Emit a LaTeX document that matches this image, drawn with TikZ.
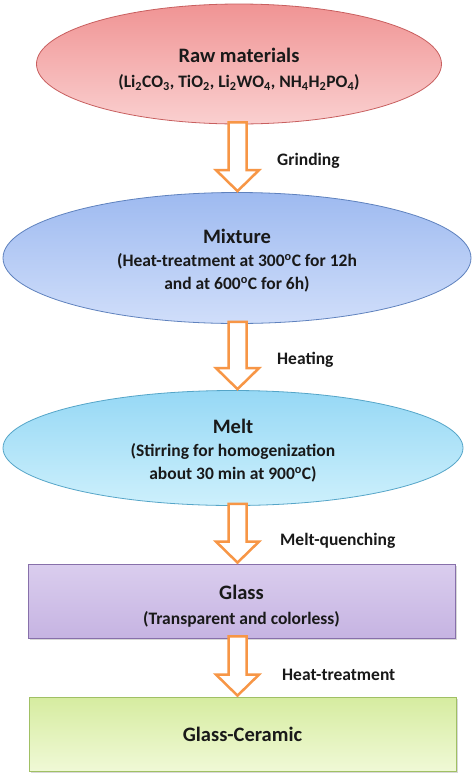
\documentclass[tikz,border=0pt]{standalone}
\usepackage{fontspec}
\setmainfont{Carlito}
\usetikzlibrary{shapes.geometric,calc,shadows}
\definecolor{rawT}{RGB}{240,148,148}
\definecolor{rawB}{RGB}{250,208,208}
\definecolor{rawE}{RGB}{200,95,95}
\definecolor{mixT}{RGB}{158,186,240}
\definecolor{mixB}{RGB}{208,222,250}
\definecolor{mixE}{RGB}{95,130,190}
\definecolor{melT}{RGB}{150,216,245}
\definecolor{melB}{RGB}{205,240,252}
\definecolor{melE}{RGB}{85,165,200}
\definecolor{glaT}{RGB}{218,205,238}
\definecolor{glaB}{RGB}{198,180,226}
\definecolor{glaE}{RGB}{135,112,170}
\definecolor{gcT}{RGB}{214,236,160}
\definecolor{gcB}{RGB}{240,249,214}
\definecolor{gcE}{RGB}{160,192,100}
\definecolor{arrO}{RGB}{247,150,70}
\definecolor{txt}{RGB}{25,25,25}
\newcommand\ttl[2][25pt]{\rule{0pt}{#1}{\fontsize{20.5}{23}\selectfont #2}}
\newcommand\dg{\textsuperscript{o}}
\newcommand\sub[1]{\textsubscript{#1}}
\newcommand\flowarrow[2]{%
  \draw[blockarr] let \p1=(#1.south), \p2=(#2.north) in
    (228.5pt,{\y1+2pt}) -- (228.5pt,{\y2+22pt}) -- (216pt,{\y2+22pt}) -- (237.5pt,{\y2+1pt})
    -- (259pt,{\y2+22pt}) -- (246.5pt,{\y2+22pt}) -- (246.5pt,{\y1+2pt}) -- cycle;}
\begin{document}
\begin{tikzpicture}[x=1pt,y=-1pt,
  ell/.style={ellipse, draw, line width=0.8pt, inner sep=0pt, align=center, text=txt,
    font=\bfseries\fontsize{17.5}{23}\selectfont},
  box/.style={rectangle, draw, line width=0.8pt, inner sep=0pt, align=center, text=txt,
    font=\bfseries\fontsize{17.5}{25}\selectfont,
    minimum width=427pt, minimum height=74pt,
    drop shadow={shadow xshift=1.5pt, shadow yshift=-2pt, opacity=0.3}},
  blockarr/.style={draw=arrO, fill=white, line width=2.5pt, line join=miter},
  lbl/.style={anchor=west, text=txt, font=\bfseries\fontsize{17.5}{20}\selectfont, inner sep=0pt}]
\useasboundingbox (0,0) rectangle (474,777);
\fill[white] (0,0) rectangle (474,777);

\node[ell, minimum width=405pt, minimum height=120pt, draw=rawE, top color=rawT, bottom color=rawB]
  (raw) at (239,64) {\ttl{Raw materials}\\[2pt]
  (Li\sub{2}CO\sub{3}, TiO\sub{2}, Li\sub{2}WO\sub{4}, NH\sub{4}H\sub{2}PO\sub{4})};

\node[ell, minimum width=468pt, minimum height=131pt, draw=mixE, top color=mixT, bottom color=mixB]
  (mix) at (237,258) {\ttl[20pt]{Mixture}\\
  (Heat-treatment at 300\dg C for 12h\\ and at 600\dg C for 6h)};

\node[ell, minimum width=460pt, minimum height=115pt, draw=melE, top color=melT, bottom color=melB]
  (melt) at (233,448) {\ttl[20pt]{Melt}\\
  (Stirring for homogenization\\ about 30 min at 900\dg C)};

\node[box, draw=glaE, top color=glaT, bottom color=glaB]
  (glass) at (241.5,601) {\ttl{Glass}\\ (Transparent and colorless)};

\node[box, draw=gcE, top color=gcT, bottom color=gcB]
  (gc) at (242.5,734) {{\fontsize{20.5}{23}\selectfont Glass-Ceramic}};

\flowarrow{raw}{mix}
\flowarrow{mix}{melt}
\flowarrow{melt}{glass}
\flowarrow{glass}{gc}

\node[lbl] (l1) at (277,161) {Grinding};
\node[lbl] (l2) at (277,360) {Heating};
\node[lbl] (l3) at (280,541) {Melt-quenching};
\node[lbl] (l4) at (282,675) {Heat-treatment};
\end{tikzpicture}
\end{document}
